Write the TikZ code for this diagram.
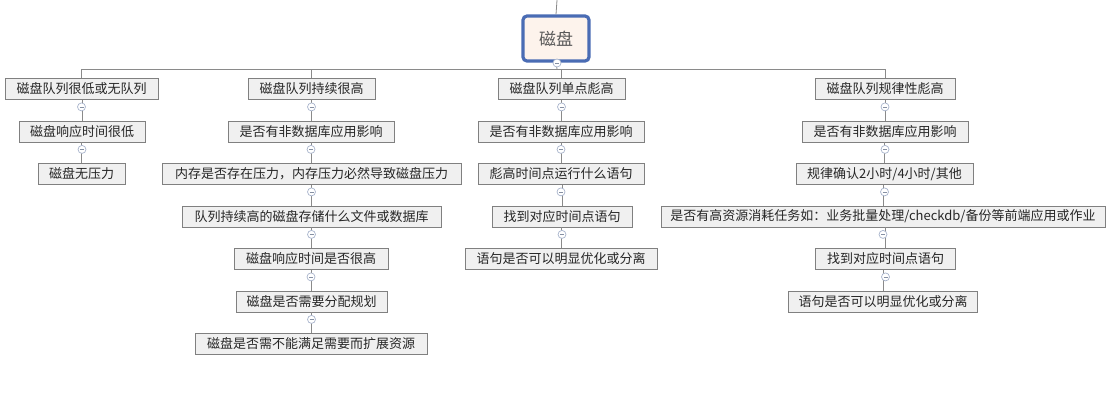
\documentclass[tikz,border=0pt]{standalone}
\usepackage{fontspec}
\setmainfont{Noto Sans CJK SC}
\definecolor{rootblue}{HTML}{4A6CB4}
\definecolor{rootfill}{HTML}{FDF3EC}
\definecolor{boxfill}{HTML}{F0F0F0}
\definecolor{boxline}{HTML}{808080}
\definecolor{linkc}{HTML}{8A8A8A}
\definecolor{togc}{HTML}{A8B4CC}
\begin{document}
\begin{tikzpicture}[x=1pt,y=-1pt,
  box/.style={draw=boxline, fill=boxfill, line width=0.8pt, minimum height=21pt, inner sep=0pt, font=\fontsize{13}{15}\selectfont, text=black!85},
  rootbox/.style={draw=rootblue, line width=3.2pt, rounded corners=4pt, fill=rootfill, minimum width=66pt, minimum height=45pt, inner sep=0pt, font=\fontsize{17}{19}\selectfont, text=black!65},
  link/.style={draw=linkc, line width=0.8pt},
  tog/.style={circle, draw=togc, fill=white, line width=0.7pt, minimum size=8pt, inner sep=0pt,
    path picture={\draw[togc!80!black, line width=0.6pt] ([xshift=-2pt]path picture bounding box.center) -- ([xshift=2pt]path picture bounding box.center);}}
]
\useasboundingbox (0,0) rectangle (1115,400);

% root
\coordinate (top) at (557,0);
\node[rootbox] (root) at (556,38.5) {磁盘};
\draw[link] (top) -- (root.north);

% column 1
\node[box, minimum width=153pt] (a1) at (81.5,89) {磁盘队列很低或无队列};
\node[box, minimum width=126pt] (a2) at (82,131.5) {磁盘响应时间很低};
\node[box, minimum width=87pt]  (a3) at (81.5,174) {磁盘无压力};

% column 2
\node[box, minimum width=127pt] (b1) at (311.5,89) {磁盘队列持续很高};
\node[box, minimum width=166pt] (b2) at (311,131.5) {是否有非数据库应用影响};
\node[box, minimum width=299pt] (b3) at (311.5,174) {内存是否存在压力，内存压力必然导致磁盘压力};
\node[box, minimum width=259pt] (b4) at (311.5,216.5) {队列持续高的磁盘存储什么文件或数据库};
\node[box, minimum width=154pt] (b5) at (311,259) {磁盘响应时间是否很高};
\node[box, minimum width=151pt] (b6) at (311.5,301.5) {磁盘是否需要分配规划};
\node[box, minimum width=232pt] (b7) at (311,344) {磁盘是否需不能满足需要而扩展资源};

% column 3
\node[box, minimum width=127pt] (c1) at (561.5,89) {磁盘队列单点彪高};
\node[box, minimum width=166pt] (c2) at (561,131.5) {是否有非数据库应用影响};
\node[box, minimum width=166pt] (c3) at (561,174) {彪高时间点运行什么语句};
\node[box, minimum width=140pt] (c4) at (562,216.5) {找到对应时间点语句};
\node[box, minimum width=192pt] (c5) at (561,259) {语句是否可以明显优化或分离};

% column 4
\node[box, minimum width=140pt] (d1) at (885,89) {磁盘队列规律性彪高};
\node[box, minimum width=166pt] (d2) at (885,131.5) {是否有非数据库应用影响};
\node[box, minimum width=177pt] (d3) at (884.5,174) {规律确认2小时/4小时/其他};
\node[box, minimum width=444pt] (d4) at (883,216.5) {是否有高资源消耗任务如：业务批量处理/checkdb/备份等前端应用或作业};
\node[box, minimum width=140pt] (d5) at (885.5,259) {找到对应时间点语句};
\node[box, minimum width=189pt] (d6) at (883,301.5) {语句是否可以明显优化或分离};

% bus
\coordinate (busL) at (81.5,69);
\coordinate (busR) at (885,69);
\coordinate (busM) at (557,69);
\draw[link] (busL) -- (busR);
\draw[link] (root.south) -- (busM);
\draw[link] (busL) -- (a1.north);
\draw[link] (b1.north |- busL) -- (b1.north);
\draw[link] (c1.north |- busL) -- (c1.north);
\draw[link] (busR) -- (d1.north);

% vertical links
\foreach \p/\c in {a1/a2,a2/a3,b1/b2,b2/b3,b3/b4,b4/b5,b5/b6,b6/b7,c1/c2,c2/c3,c3/c4,c4/c5,d1/d2,d2/d3,d3/d4,d4/d5,d5/d6}{
  \draw[link] (\c.north |- \p.south) -- (\c.north);
}

% toggles
\node[tog] (troot) at (557,63) {};
\foreach \p in {a1,a2,b1,b2,b3,b4,b5,b6,c1,c2,c3,c4,d1,d2,d3,d4,d5}{
  \node[tog] (t\p) at ([yshift=-7pt]\p.south) {};
}
\end{tikzpicture}
\end{document}
